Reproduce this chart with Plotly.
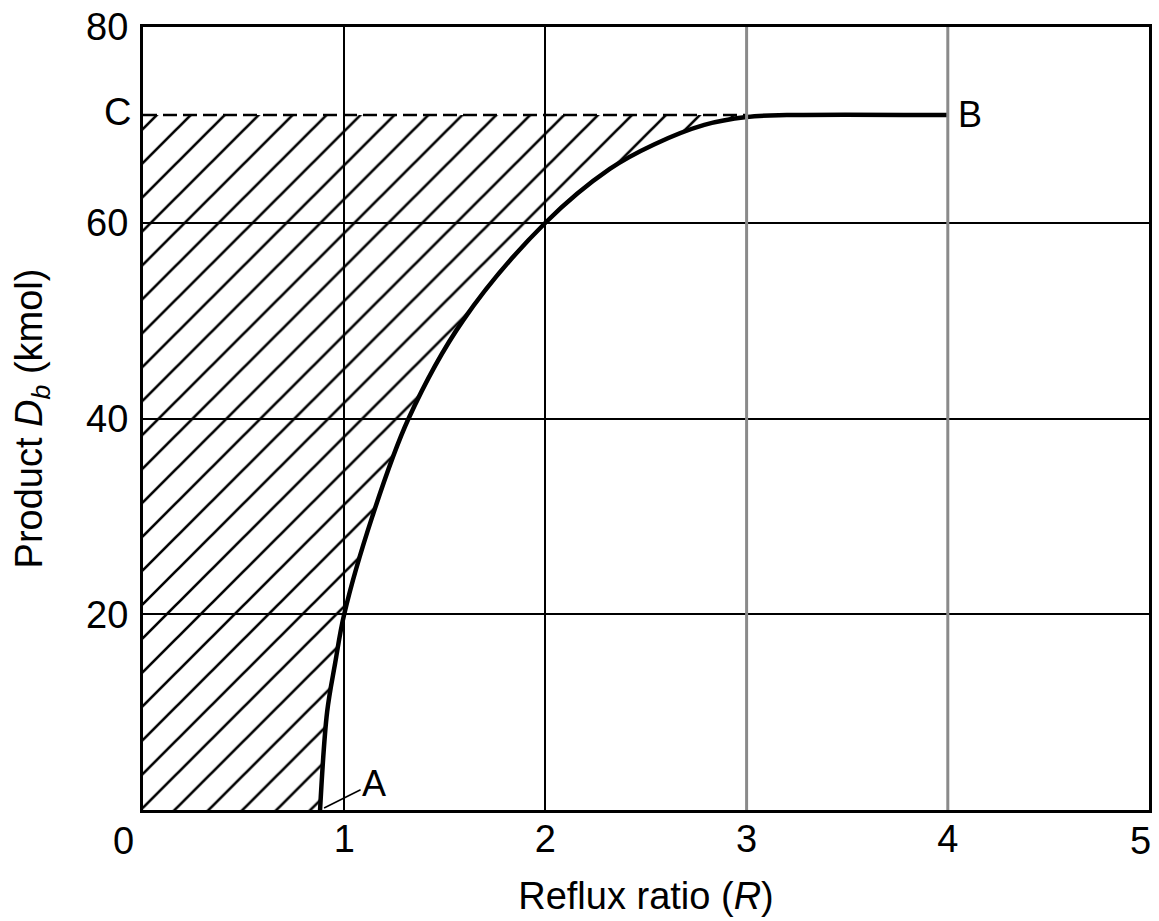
import plotly.graph_objects as go

# ---- data ----
R_curve = [0.88, 0.915, 0.955, 1.0, 1.14, 1.32, 1.59, 2.0, 2.32, 2.54, 2.79, 3.0, 3.2, 4.0]
D_curve = [0, 10, 15, 20, 30, 40, 50, 60, 65.5, 68, 70.0, 70.8, 71, 71]
C_level = 71
C_end_R = 3.0
x_tick_vals = [1, 2, 3, 4]
x_last_tick = 5
y_tick_vals = [20, 40, 60, 80]
grey_grid_x = [3, 4]

FONT = "Liberation Sans, Arial, Helvetica, sans-serif"

fig = go.Figure()

# hatched region between curve and the D axis
fig.add_trace(go.Scatter(
    x=R_curve, y=D_curve, mode="lines",
    line=dict(width=0, shape="spline", smoothing=1.0),
    fill="tozerox", fillcolor="rgba(0,0,0,0)",
    fillpattern=dict(shape="/", size=24, solidity=0.11, fgcolor="black", fgopacity=1,
                     bgcolor="rgba(0,0,0,0)", fillmode="overlay"),
    hoverinfo="skip", showlegend=False,
))

# dashed line at C
fig.add_trace(go.Scatter(
    x=[0, C_end_R], y=[C_level, C_level], mode="lines",
    line=dict(color="black", width=2.5, dash="14px,6px"),
    showlegend=False,
))

# main curve A -> B
fig.add_trace(go.Scatter(
    x=R_curve, y=D_curve, mode="lines",
    line=dict(color="black", width=4.5, shape="spline", smoothing=1.0),
    showlegend=False,
))

shapes = []
for gx in grey_grid_x:
    shapes.append(dict(type="line", xref="x", yref="paper", x0=gx, x1=gx, y0=0, y1=1,
                       line=dict(color="#8a8a8a", width=3), layer="above"))

annotations = [
    dict(x=0, y=0, xref="x", yref="y", text="0", showarrow=False,
         xshift=-20, yshift=-31, font=dict(size=38, family=FONT, color="black")),
    dict(x=x_last_tick, y=0, xref="x", yref="y", text=str(x_last_tick), showarrow=False,
         xanchor="right", xshift=4, yshift=-31, font=dict(size=38, family=FONT, color="black")),
    dict(x=0, y=C_level, xref="x", yref="y", text="C", showarrow=False,
         xanchor="right", xshift=-10, yshift=3, font=dict(size=38, family=FONT, color="black")),
    dict(x=4, y=71, xref="x", yref="y", text="B", showarrow=False,
         xanchor="left", xshift=8, yshift=1, font=dict(size=36, family=FONT, color="black")),
    dict(x=0.9, y=0.2, xref="x", yref="y", text="A", showarrow=True,
         arrowhead=0, arrowwidth=1.5, arrowcolor="black", ax=50, ay=-25, standoff=0,
         font=dict(size=36, family=FONT, color="black")),
]

fig.update_layout(
    width=1159, height=921,
    margin=dict(l=143, r=10, t=27, b=111),
    paper_bgcolor="white", plot_bgcolor="white",
    shapes=shapes, annotations=annotations,
    font=dict(family=FONT, color="black"),
    xaxis=dict(
        range=[0, 5], tickvals=x_tick_vals, ticks="", automargin=False,
        tickfont=dict(size=38, family=FONT, color="black"),
        showgrid=True, gridcolor="black", gridwidth=2,
        showline=True, linecolor="black", linewidth=3, mirror=True,
        zeroline=False, ticklabelstandoff=-7,
        title=dict(text="Reflux ratio (<i>R</i>)", font=dict(size=38, family=FONT, color="black"),
                   standoff=24),
    ),
    yaxis=dict(
        range=[0, 80], tickvals=y_tick_vals, ticks="", automargin=False,
        tickfont=dict(size=38, family=FONT, color="black"),
        showgrid=True, gridcolor="black", gridwidth=2,
        showline=True, linecolor="black", linewidth=3, mirror=True,
        zeroline=False, ticklabelstandoff=4,
        title=dict(text="Product <i>D</i><sub><i>b</i></sub> (kmol)",
                   font=dict(size=38, family=FONT, color="black"), standoff=32),
    ),
)

fig.write_html("out.html")
